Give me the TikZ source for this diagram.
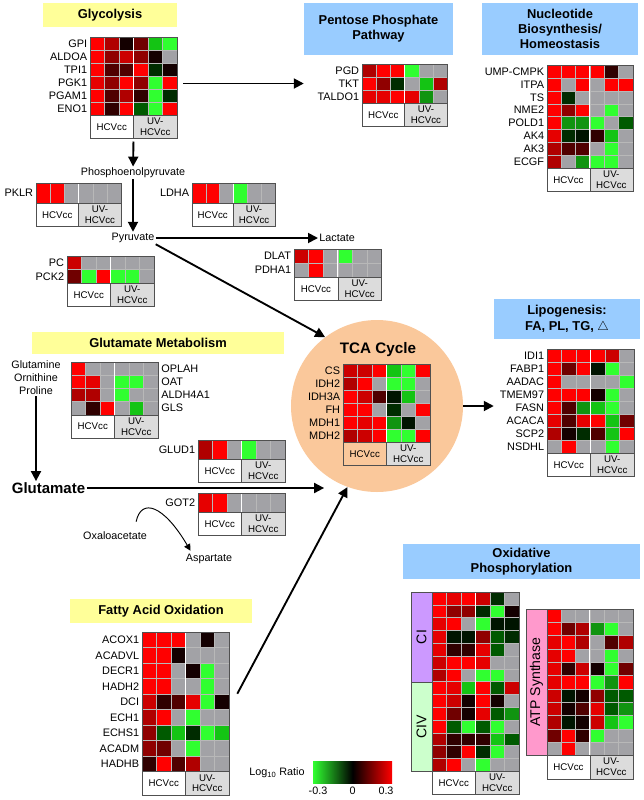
\documentclass[tikz,border=0pt]{standalone}
\usepackage{fontspec}
\setmainfont{Liberation Sans}
\usepackage{xcolor}
\usepackage{tikz}
\usetikzlibrary{arrows.meta,positioning,calc,fit}

% heatmap colours (log10 ratio)
\definecolor{hmr}{HTML}{FF0000}
\definecolor{hmra}{HTML}{E60000}
\definecolor{hmrb}{HTML}{CC0000}
\definecolor{hmrc}{HTML}{B00000}
\definecolor{hmrd}{HTML}{900000}
\definecolor{hmre}{HTML}{700000}
\definecolor{hmrf}{HTML}{500000}
\definecolor{hmrg}{HTML}{300000}
\definecolor{hmk}{HTML}{140000}
\definecolor{hmkg}{HTML}{001400}
\definecolor{hmga}{HTML}{002C00}
\definecolor{hmgb}{HTML}{005A00}
\definecolor{hmgc}{HTML}{109410}
\definecolor{hmgd}{HTML}{14C414}
\definecolor{hmG}{HTML}{30FF30}
\definecolor{hmn}{HTML}{A2A2A6}
% boxes
\definecolor{ttlyellow}{HTML}{FFFF99}
\definecolor{ttlblue}{HTML}{99CCFF}
\definecolor{tcafill}{HTML}{FAC89B}
\definecolor{cipurple}{HTML}{CC99FF}
\definecolor{civgreen}{HTML}{CCFFCC}
\definecolor{atppink}{HTML}{FF99CC}
\definecolor{footgray}{HTML}{DCDCDC}
\definecolor{hmframe}{HTML}{505050}

% #1 name, #2 x, #3 y, #4 cell width, #5 cell height, #6 gene labels, #7 rows
\newcommand{\hmap}[7]{%
  \foreach \hrow [count=\i] in {#7} {
    \foreach \hc [count=\j] in \hrow
      \filldraw[hmcell, fill=hm\hc] ({#2+(\j-1)*#4},{#3+(\i-1)*#5}) rectangle ++(#4,#5);
    \xdef\hmn{\i}
  }
  \draw[hmsep] ({#2+3*#4},#3) -- ++(0,{\hmn*#5});
  \coordinate (#1-nw) at (#2,#3);
  \coordinate (#1-se) at ({#2+6*#4},{#3+\hmn*#5});
  \node[hmbox, fit=(#1-nw)(#1-se)] (#1) {};
  \draw[footbox] ({#2},{#3+\hmn*#5}) rectangle ++({3*#4},23.5);
  \draw[footbox, fill=footgray] ({#2+3*#4},{#3+\hmn*#5}) rectangle ++({3*#4},23.5);
  \node[foottxt] at ({#2+1.5*#4},{#3+\hmn*#5+11.75}) {HCVcc};
  \node[foottxt] at ({#2+4.5*#4},{#3+\hmn*#5+11.75}) {UV-\\HCVcc};
  \coordinate (#1-foot) at ({#2+3*#4},{#3+\hmn*#5+23.5});
  \def\hmlabels{#6}%
  \ifx\hmlabels\empty\else
    \foreach \g [count=\i] in {#6}
      \node[gene, anchor=east] at ({#2-1.5},{#3+(\i-0.5)*#5}) {\g};
  \fi
}

\begin{document}
\begin{tikzpicture}[x=0.03cm, y=-0.03cm,
  ttl/.style={font=\bfseries\fontsize{11}{13}\selectfont, align=center, inner sep=0pt},
  ylw/.style={ttl, fill=ttlyellow},
  blu/.style={ttl, fill=ttlblue},
  gene/.style={font=\fontsize{9.3}{10}\selectfont, inner sep=1pt},
  txt/.style={font=\fontsize{9.2}{11}\selectfont, inner sep=1pt},
  big/.style={font=\bfseries\fontsize{12.8}{14}\selectfont, inner sep=1pt},
  hmcell/.style={draw=black!28, line width=0.2pt},
  hmsep/.style={draw=white, line width=0.7pt},
  hmbox/.style={draw=hmframe, line width=0.5pt, inner sep=0pt},
  footbox/.style={draw=hmframe, line width=0.5pt},
  foottxt/.style={font=\fontsize{8.3}{9.2}\selectfont, align=center, inner sep=0pt},
  side/.style={draw=hmframe, line width=0.5pt, font=\fontsize{12}{13}\selectfont, rotate=90, inner sep=0pt},
  arr/.style={-{Triangle[length=3mm,width=3mm]}, line width=1.6pt},
  carr/.style={-{Triangle[length=2mm,width=2mm]}, line width=0.8pt}
]
\useasboundingbox (0,0) rectangle (644,800);

% pathway titles
\node[ylw, minimum width=4.02cm, minimum height=0.72cm] (glyT) at (110,15) {Glycolysis};
\node[blu, minimum width=4.47cm, minimum height=1.56cm] (pppT) at (378.5,29) {Pentose Phosphate\\Pathway};
\node[blu, minimum width=4.68cm, minimum height=1.56cm] (nucT) at (560,29) {Nucleotide\\Biosynthesis/\\Homeostasis};
\node[ylw, minimum width=7.56cm, minimum height=0.66cm] (gluT) at (158,343) {Glutamate Metabolism};
\node[blu, minimum width=4.38cm, minimum height=1.2cm] (lipT) at (567,319) {Lipogenesis:\\FA, PL, TG, $\bigtriangleup$};
\node[ylw, minimum width=5.46cm, minimum height=0.72cm] (faoT) at (161,611) {Fatty Acid Oxidation};
\node[blu, minimum width=7.11cm, minimum height=1.05cm] (oxT) at (521.5,561.5) {Oxidative\\Phosphorylation};

% TCA cycle
\node[circle, fill=tcafill, minimum size=5.16cm, inner sep=0pt] (tca) at (377,406) {};
\node[big, font=\bfseries\fontsize{13}{14}\selectfont] (tcaL) at (378,350) {TCA Cycle};

% heatmaps
\hmap{gly}{90}{37}{14.5}{13}{GPI,ALDOA,TPI1,PGK1,PGAM1,ENO1}{
  {r,rc,k,re,gd,G},{r,rd,rb,rd,k,n},{r,rf,rf,r,ga,k},
  {ra,rd,r,rd,G,r},{r,rf,rc,rg,G,ga},{r,rg,r,gb,G,r}}
\hmap{ppp}{362}{64}{14.2}{13}{PGD,TKT,TALDO1}{
  {rc,r,r,G,n,n},{r,rd,ga,n,gd,rc},{ra,ra,r,ra,gc,n}}
\hmap{nuc}{547}{65}{14.3}{12.9}{UMP-CMPK,ITPA,TS,NME2,POLD1,AK4,AK3,ECGF}{
  {r,r,r,r,rg,n},{r,n,r,n,r,r},{r,ga,n,n,n,n},{r,rd,r,n,G,n},
  {r,gc,gc,G,n,gb},{ra,ga,kg,rg,gd,n},{rc,rf,rf,n,G,n},{rc,n,gc,G,G,n}}
\hmap{pklr}{36}{183}{14.2}{20}{PKLR}{{r,r,n,n,n,n}}
\hmap{ldha}{192}{183}{13.8}{20}{LDHA}{{r,r,n,G,n,n}}
\hmap{pc}{67}{256}{14.5}{13.5}{PC,PCK2}{{rb,n,n,n,n,n},{re,G,r,G,G,n}}
\hmap{dlat}{294}{249}{14.6}{14}{DLAT,PDHA1}{{rb,r,n,G,n,n},{n,r,n,n,n,n}}
\hmap{glm}{71}{362}{14.5}{13.2}{}{
  {r,n,n,n,n,n},{r,ra,n,G,G,n},{rc,rc,n,G,n,n},{n,rg,r,n,gd,n}}
\hmap{glud}{198}{440}{14.5}{19}{GLUD1}{{rc,r,n,G,n,n}}
\hmap{got}{198}{493}{14.5}{19}{GOT2}{{ra,r,n,n,n,n}}
\hmap{tcah}{343}{364}{14.5}{13}{CS,IDH2,IDH3A,FH,MDH1,MDH2}{
  {rb,rb,r,gd,G,r},{rc,r,n,G,G,n},{r,rb,rf,kg,gd,n},
  {r,r,n,ga,n,r},{r,ra,r,gc,kg,n},{rc,rb,r,G,G,r}}
\hmap{lip}{547}{349}{14.5}{13}{IDI1,FABP1,AADAC,TMEM97,FASN,ACACA,SCP2,NSDHL}{
  {r,r,r,r,rb,n},{r,re,r,kg,G,n},{r,n,n,n,n,G},{r,r,r,k,G,n},
  {r,rf,gc,gd,G,n},{ra,rf,ra,r,gd,re},{rc,k,ga,rf,gd,r},{n,r,n,n,G,n}}
\hmap{fao}{142}{632}{14.5}{15.5}{ACOX1,ACADVL,DECR1,HADH2,DCI,ECH1,ECHS1,ACADM,HADHB}{
  {r,r,r,n,k,n},{r,r,k,n,n,n},{r,r,n,k,G,n},{r,r,n,n,G,n},
  {rb,rg,rf,ra,G,k},{rc,r,n,G,n,n},{rd,gb,gd,ga,G,gd},{rd,re,n,G,n,n},{rg,r,rf,rc,n,n}}
\hmap{oxci}{432}{592}{14.5}{12.8}{}{
  {r,ra,r,rb,ga,n},{r,rd,rd,ga,G,k},{ra,r,n,G,kg,kg},{ra,kg,kg,rd,gb,ga},
  {ra,rg,rg,ra,gb,n},{rb,r,r,ra,n,n},{rc,r,n,G,G,n},{r,ra,gd,r,gb,rb},
  {r,rb,k,r,k,n},{r,re,k,ra,gb,gc},{r,gb,G,gb,G,n},{rc,rg,rg,rg,gd,gb},
  {rd,rg,r,ga,G,n},{rc,r,n,G,n,n}}
\hmap{oxatp}{547}{609}{14.3}{13.3}{}{
  {r,n,n,n,n,n},{r,re,rc,gc,G,n},{ra,r,rc,n,rf,rc},{ra,r,n,n,G,n},
  {ra,rg,rb,k,G,re},{ra,r,r,G,gc,r},{rb,kg,k,rd,gb,gb},{rb,k,rf,ra,gb,gc},
  {rc,kg,k,rb,gd,G},{re,r,rg,G,n,n},{n,r,n,n,n,n}}

% glutamate metabolism genes sit to the right
\foreach \g [count=\i] in {OPLAH,OAT,ALDH4A1,GLS}
  \node[gene, anchor=west] at (160,{362+(\i-0.5)*13.2}) {\g};

% complex side bars
\node[side, fill=cipurple, minimum width=2.7cm, minimum height=0.63cm] (ciS) at (421.5,637) {CI};
\node[side, fill=civgreen, minimum width=2.67cm, minimum height=0.63cm] (civS) at (421.5,726.5) {CIV};
\node[side, fill=atppink, minimum width=4.38cm, minimum height=0.63cm] (atpS) at (536.5,682) {ATP Synthase};

% metabolites
\node[txt] (pep) at (133,173) {Phosphoenolpyruvate};
\node[txt] (pyr) at (133,238) {Pyruvate};
\node[txt, anchor=west] (lac) at (318,238) {Lactate};
\node[txt, align=center] (gop) at (36,378) {Glutamine\\Ornithine\\Proline};
\node[big] (glu) at (48.5,488) {Glutamate};
\node[txt] (oxa) at (115,536) {Oxaloacetate};
\node[txt] (asp) at (209,559) {Aspartate};

% legend
\node[txt] (legT) at (277,773) {Log\textsubscript{10} Ratio};
\node[minimum width=2.37cm, minimum height=0.66cm, inner sep=0pt,
  left color=hmG, right color=hmr, middle color=black] (legbar) at (352.5,772) {};
\node[txt] (legmin) at (318,791) {-0.3};
\node[txt] (legmid) at (352.5,791) {0};
\node[txt] (legmax) at (386,791) {0.3};

% connectors
\draw[arr, shorten <=0.18cm] (gly.east |- ppp.west) -- (pppT.west |- ppp.west);
\draw[arr, shorten <=0.09cm] (gly-foot) -- (pep);
\draw[arr] (pep) -- (pyr);
\draw[arr] (pyr) -- (lac);
\draw[arr] (pyr.south east) -- (tca.127);
\draw[arr] (tca.east) -- (tca.east -| lipT.west);
\draw[arr] (gop.south) -- (gop.south |- glu.north);
\draw[arr] (glu.east) -- ([xshift=1cm]glu.east -| tca.west);
\draw[arr] ([xshift=0.24cm,yshift=0.24cm]fao.east) -- (tca.250);
\draw[carr] ($(oxa.north east)+(-12,-9)$) .. controls +(5,-24) and +(-27,-46) .. ($(asp.north west)+(6,-2)$);
\end{tikzpicture}
\end{document}
